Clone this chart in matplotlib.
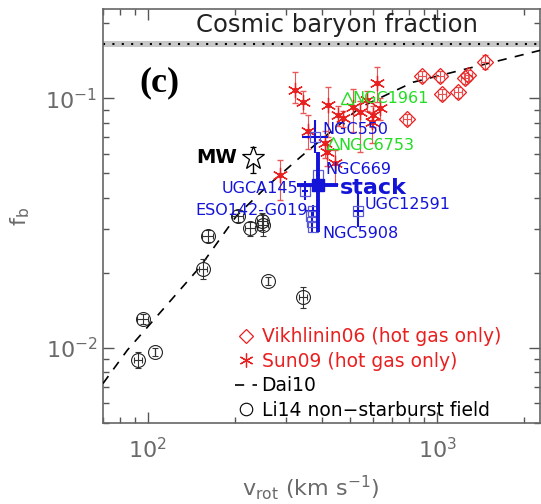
import matplotlib
matplotlib.use("Agg")
import matplotlib.pyplot as plt
from matplotlib.lines import Line2D
from matplotlib.ticker import NullFormatter

plt.rcParams['font.family'] = ['DejaVu Sans']
plt.rcParams['mathtext.fontset'] = 'dejavusans'

# cosmic baryon fraction band
cosmic_fb = 0.165
cosmic_lo, cosmic_hi = 0.160, 0.170

# Vikhlinin06 (hot gas only)
vik_v = [787, 887, 1024, 1041, 1182, 1250, 1280, 1466]
vik_f = [0.0824, 0.1225, 0.1225, 0.1038, 0.1057, 0.1203, 0.1237, 0.1395]
vik_ferr = [0.004, 0.006, 0.006, 0.005, 0.005, 0.006, 0.006, 0.009]
vik_verr = [25, 28, 32, 33, 37, 39, 40, 46]

# Sun09 (hot gas only)
sun_v = [323, 344, 358, 286, 420, 455, 473, 512, 620, 635, 601, 596, 410, 416, 444, 541, 572]
sun_f = [0.1076, 0.0964, 0.0737, 0.0491, 0.0937, 0.0855, 0.0831, 0.0920, 0.1149, 0.0912,
         0.0855, 0.0801, 0.0660, 0.0607, 0.0553, 0.0879, 0.0982]
sun_lo = [0.012, 0.009, 0.011, 0.010, 0.024, 0.008, 0.006, 0.019, 0.0185, 0.009,
          0.009, 0.0136, 0.0086, 0.007, 0.010, 0.027, 0.009]
sun_hi = [0.020, 0.011, 0.012, 0.0073, 0.017, 0.008, 0.006, 0.017, 0.018, 0.009,
          0.008, 0.008, 0.0077, 0.007, 0.0065, 0.010, 0.009]

# Dai10 relation
dai_v = [70, 85, 151, 203, 260, 336, 542, 826, 2290]
dai_f = [0.0072, 0.0098, 0.0210, 0.0339, 0.0447, 0.0580, 0.0920, 0.116, 0.156]

# Li14 non-starburst field
li_v = [92.3, 96.1, 105.7, 155, 161, 205, 225, 248, 250, 260, 344]
li_f = [0.00895, 0.0131, 0.00964, 0.0208, 0.0282, 0.0339, 0.0301, 0.0322, 0.0311, 0.0186, 0.0160]
li_ferr = [0.00066, 0.0006, 0.00036, 0.0019, 0.0016, 0.0019, 0.0019, 0.0024, 0.0029, 0.0007, 0.0015]
li_verr = [3, 4, 0, 5, 7, 9, 9, 10, 10, 0, 12]

# CGM-MASS galaxies
cgm_names = ['NGC550', 'NGC669', 'UGCA145', 'ESO142-G019', 'NGC5908', 'UGC12591']
cgm_v = [378, 388, 349, 372, 370, 533]
cgm_f = [0.0697, 0.0491, 0.0427, 0.0355, 0.0320, 0.0355]
cgm_flo = [0.0095, 0.002, 0.0037, 0.002, 0.003, 0.0051]
cgm_fhi = [0.012, 0.002, 0.0041, 0.002, 0.003, 0.0064]
cgm_vlo = [37, 6, 8, 21, 6, 20]
cgm_vhi = [42, 6, 8, 21, 6, 20]
extra_sq_v = [368, 372]
extra_sq_f = [0.0339, 0.0305]

# stacked
stack_v, stack_f = 388, 0.0451
stack_verr = [[60], [67]]
stack_ferr = [[0.0161], [0.0156]]

# other massive spirals
grn_names = ['NGC1961', 'NGC6753']
grn_v = [488, 437]
grn_f = [0.100, 0.066]

# Milky Way
mw_v, mw_f = 231, 0.0574
mw_ferr = [[0.0074], [0.0062]]

red = '#e82020'
blue = '#1414d8'
green = '#22dd22'
grey = '#6a6a6a'

fig = plt.figure(figsize=(5.41, 5.04), dpi=100)
ax = fig.add_axes([103 / 541, 81 / 504, 437 / 541, 414 / 504])
ax.set_xscale('log')
ax.set_yscale('log')
ax.set_xlim(70, 2270)
ax.set_ylim(0.005, 0.228)

ax.axhspan(cosmic_lo, cosmic_hi, color='#c8c8c8', lw=0, zorder=1)
ax.axhline(cosmic_fb, color='k', ls=(0, (1, 3.5)), lw=1.5, zorder=2)
ax.text(0.535, 0.961, 'Cosmic baryon fraction', transform=ax.transAxes,
        ha='center', va='center', fontsize=17.5, color='#222222')

ax.plot(dai_v, dai_f, color='k', dashes=(5.5, 5), lw=1.2, zorder=3)

ax.errorbar(vik_v, vik_f, yerr=vik_ferr, xerr=vik_verr, fmt='D', mfc='none', mec=red,
            ms=8, mew=0.9, ecolor='#e85050', elinewidth=0.8, capsize=2.5, zorder=4)

ax.errorbar(sun_v, sun_f, yerr=[sun_lo, sun_hi], fmt='none', ecolor='#e85858',
            elinewidth=0.8, capsize=2.5, zorder=4)
ax.plot(sun_v, sun_f, ls='none', marker=(6, 2, 0), ms=11, mec=red, mew=0.9, zorder=5)
ax.plot(sun_v, sun_f, ls='none', marker='o', ms=3, color=red, zorder=5)

ax.errorbar(li_v, li_f, yerr=li_ferr, xerr=li_verr, fmt='o', mfc='none', mec='#222222',
            ms=10, mew=0.8, ecolor='#333333', elinewidth=0.8, capsize=2, zorder=4)

ax.errorbar(cgm_v, cgm_f, yerr=[cgm_flo, cgm_fhi], xerr=[cgm_vlo, cgm_vhi], fmt='s',
            mfc='none', mec='#5a5ad8', ms=7, mew=0.9, ecolor=blue, elinewidth=1.5,
            capsize=0, zorder=6)
ax.plot(extra_sq_v, extra_sq_f, ls='none', marker='s', mfc='none', mec='#5a5ad8',
        ms=7, mew=0.9, zorder=6)
ax.errorbar([stack_v], [stack_f], yerr=stack_ferr, xerr=stack_verr, fmt='s', color=blue,
            ms=8, elinewidth=2.8, capsize=0, zorder=7)

ax.plot(grn_v, grn_f, ls='none', marker='^', mfc='none', mec=green, ms=8, mew=1, zorder=6)

ax.errorbar([mw_v], [mw_f], yerr=mw_ferr, xerr=6, fmt='*', mfc='white', mec='k',
            ms=17, mew=0.9, ecolor='k', elinewidth=1, capsize=2.5, zorder=6)

# labels
cgm_off = [(8, 8, 'left'), (7, 6, 'left'), (-7, 2, 'right'), (-5, 0, 'right'),
           (10, -12, 'left'), (7, 6, 'left')]
for name, v, f, (dx, dy, ha) in zip(cgm_names, cgm_v, cgm_f, cgm_off):
    ax.annotate(name, (v, f), xytext=(dx, dy), textcoords='offset pixels',
                ha=ha, va='center', fontsize=11.5, color=blue, zorder=8)
ax.annotate('stack', (stack_v, stack_f), xytext=(22, -3), textcoords='offset pixels',
            ha='left', va='center', fontsize=16, fontweight='bold', color=blue, zorder=8)
grn_off = [(5, 0), (5, -2)]
for name, v, f, (dx, dy) in zip(grn_names, grn_v, grn_f, grn_off):
    ax.annotate(name, (v, f), xytext=(dx, dy), textcoords='offset pixels',
                ha='left', va='center', fontsize=11.5, color=green, zorder=8)
ax.annotate('MW', (mw_v, mw_f), xytext=(-16, 1), textcoords='offset pixels',
            ha='right', va='center', fontsize=14, fontweight='bold', color='k')

ax.text(0.130, 0.821, '(c)', transform=ax.transAxes, ha='center', va='center',
        fontsize=26, fontweight='bold', family='Liberation Serif')

handles = [
    Line2D([], [], ls='none', marker='D', mfc='none', mec=red, ms=7, mew=0.9),
    Line2D([], [], ls='none', marker=(6, 2, 0), mec=red, ms=10, mew=0.9),
    Line2D([], [], color='k', dashes=(5.5, 5), lw=1.2),
    Line2D([], [], ls='none', marker='o', mfc='none', mec='k', ms=9, mew=0.8),
]
labels = ['Vikhlinin06 (hot gas only)', 'Sun09 (hot gas only)', 'Dai10',
          'Li14 non\u2212starburst field']
leg = ax.legend(handles, labels, loc='upper left', bbox_to_anchor=(0.301, 0.231),
                frameon=False, fontsize=13.5, handlelength=1.2, handletextpad=0.24,
                labelspacing=0.29, borderpad=0, borderaxespad=0)
for t, c in zip(leg.get_texts(), [red, red, 'k', 'k']):
    t.set_color(c)

ax.tick_params(which='both', direction='in', top=True, right=True, color='#555555',
               labelcolor=grey, labelsize=16)
ax.tick_params(which='major', length=8, width=1)
ax.tick_params(which='minor', length=4.5, width=1)
ax.tick_params(axis='x', pad=10)
ax.tick_params(axis='y', pad=4)
ax.xaxis.set_minor_formatter(NullFormatter())
ax.yaxis.set_minor_formatter(NullFormatter())
for s in ax.spines.values():
    s.set_color('#666666')
    s.set_linewidth(1.2)

ax.set_xlabel(r'$\mathregular{v_{rot}}$ (km s$^{-1}$)', fontsize=16, color=grey)
ax.set_ylabel(r'f$_\mathregular{b}$', fontsize=16, color=grey)
ax.xaxis.set_label_coords(0.476, -0.122)
ax.yaxis.set_label_coords(-0.162, 0.5)

fig.savefig('out.png', dpi=100)
